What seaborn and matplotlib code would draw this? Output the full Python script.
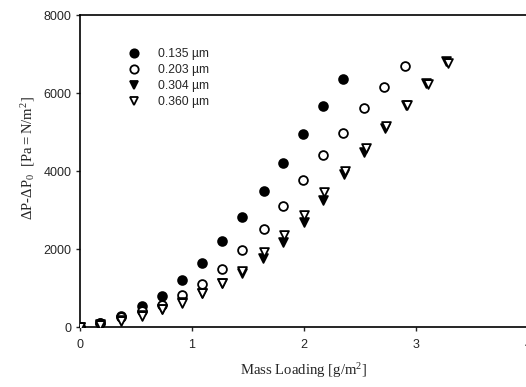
import pandas as pd
import matplotlib
matplotlib.use("Agg")
import matplotlib.pyplot as plt
import seaborn as sns
from matplotlib.lines import Line2D

# 0.135 um (filled circles)
x_135 = [0, 0.18, 0.37, 0.55, 0.73, 0.91, 1.09, 1.27, 1.45, 1.64, 1.81, 1.99, 2.17, 2.35]
y_135 = [0, 110, 290, 550, 805, 1215, 1645, 2200, 2830, 3490, 4210, 4960, 5660, 6370]

# 0.203 um (open circles)
x_203 = [0, 0.18, 0.37, 0.55, 0.73, 0.91, 1.09, 1.27, 1.45, 1.64, 1.81, 1.99, 2.17, 2.35,
         2.54, 2.71, 2.90]
y_203 = [0, 100, 250, 420, 570, 820, 1090, 1490, 1975, 2510, 3100, 3770, 4410, 4980,
         5610, 6160, 6680]

# 0.304 um (filled triangles)
x_304 = [0, 0.18, 0.37, 0.55, 0.73, 0.91, 1.09, 1.27, 1.45, 1.63, 1.81, 2.0, 2.17, 2.36,
         2.54, 2.72, 2.91, 3.09, 3.27]
y_304 = [0, 70, 170, 300, 470, 650, 870, 1120, 1380, 1760, 2190, 2680, 3260, 3930,
         4500, 5100, 5690, 6260, 6810]

# 0.360 um (open triangles)
x_360 = [0, 0.18, 0.37, 0.55, 0.73, 0.91, 1.09, 1.27, 1.45, 1.64, 1.82, 2.0, 2.18, 2.37,
         2.55, 2.73, 2.92, 3.11, 3.29]
y_360 = [0, 60, 160, 280, 460, 610, 880, 1130, 1430, 1930, 2360, 2880, 3450, 4000,
         4590, 5160, 5680, 6220, 6760]

labels = ["0.135 \u00b5m", "0.203 \u00b5m", "0.304 \u00b5m", "0.360 \u00b5m"]

sns.set_style("white")
plt.rcParams['font.family'] = ['Liberation Sans', 'DejaVu Sans']
plt.rcParams['mathtext.fontset'] = 'custom'
plt.rcParams['mathtext.rm'] = 'Liberation Serif'
plt.rcParams['mathtext.it'] = 'Liberation Serif'

fig = plt.figure(figsize=(5.26, 3.87), dpi=100)
ax = fig.add_axes([80 / 526, 60 / 387, 448 / 526, 312 / 387])

series = [
    (x_135, y_135, 'o', 'black'),
    (x_203, y_203, 'o', 'white'),
    (x_304, y_304, 'v', 'black'),
    (x_360, y_360, 'v', 'white'),
]
handles = []
for (xs, ys, m, fc), lab in zip(series, labels):
    df = pd.DataFrame({'x': xs, 'y': ys})
    sns.scatterplot(data=df, x='x', y='y', ax=ax, marker=m, s=40,
                    facecolor=fc, edgecolor='black', linewidth=1.3, zorder=3)
    handles.append(Line2D([], [], ls='none', marker=m, markersize=6,
                          markerfacecolor=fc, markeredgecolor='black',
                          markeredgewidth=1.3, label=lab))

ax.set_xlim(0, 4)
ax.set_ylim(0, 8000)
ax.set_xticks([0, 1, 2, 3, 4])
ax.set_yticks([0, 2000, 4000, 6000, 8000])
ax.tick_params(axis='both', labelsize=9, length=3, width=1, direction='out',
               bottom=True, left=True, pad=3)
ax.tick_params(axis='x', pad=6)
for sp in ax.spines.values():
    sp.set_color('black')
    sp.set_linewidth(1.2)

ax.set_xlabel(r'$\mathrm{Mass\ Loading\ [g/m^2]}$', fontsize=10.6, labelpad=7)
ax.set_ylabel(r'$\mathrm{\Delta P\text{-}\Delta P_0\ \ [Pa = N/m^2]}$', fontsize=10.6)
ax.yaxis.set_label_coords(-0.095, 0.54)

ax.legend(handles=handles, loc='upper left', bbox_to_anchor=(0.085, 0.925),
          frameon=False, fontsize=8.7, handletextpad=1.5, labelspacing=0.33,
          handlelength=1.0, borderpad=0.3)

fig.savefig('out.png', dpi=100)
